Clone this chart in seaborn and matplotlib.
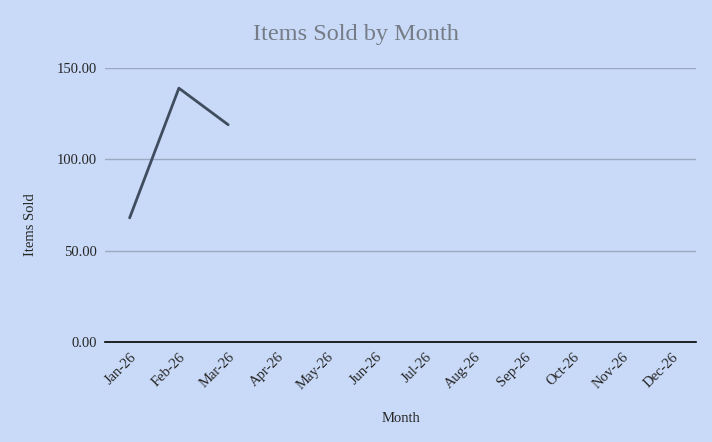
import pandas as pd
import matplotlib.pyplot as plt
import seaborn as sns

months = ['Jan-26', 'Feb-26', 'Mar-26', 'Apr-26', 'May-26', 'Jun-26',
          'Jul-26', 'Aug-26', 'Sep-26', 'Oct-26', 'Nov-26', 'Dec-26']
sold_months = ['Jan-26', 'Feb-26', 'Mar-26']
items_sold = [68, 139, 119]

bg = '#c9daf8'
sns.set_style('white')
plt.rcParams['font.family'] = ['Liberation Serif', 'DejaVu Serif']

df = pd.DataFrame({'pos': [months.index(m) for m in sold_months], 'sold': items_sold})

fig = plt.figure(figsize=(7.12, 4.42), dpi=100, facecolor=bg)
ax = fig.add_axes([0.1475, 0.226, 0.83, 0.62])
ax.set_facecolor(bg)

sns.lineplot(data=df, x='pos', y='sold', ax=ax, color='#3f4d5f', linewidth=2)

ax.set_xlim(-0.5, 11.5)
ax.set_ylim(0, 150)
ax.set_yticks([0, 50, 100, 150])
ax.set_yticklabels([f'{v:.2f}' for v in [0, 50, 100, 150]], fontsize=10.5)
ax.set_xticks(range(len(months)))
ax.set_xticklabels(months, rotation=45, ha='right', rotation_mode='anchor', fontsize=10.5)
ax.tick_params(length=0, pad=6)
ax.grid(axis='y', color='#9aa9c2', linewidth=1)
ax.set_axisbelow(True)
for s in ['top', 'right', 'left']:
    ax.spines[s].set_visible(False)
ax.spines['bottom'].set_color('black')
ax.spines['bottom'].set_linewidth(1.2)
ax.spines['bottom'].set_zorder(3)

ax.set_xlabel('Month', fontsize=10.5, labelpad=14)
ax.set_ylabel('Items Sold', fontsize=10.5)
ax.yaxis.set_label_coords(-0.115, 0.43)
fig.suptitle('Items Sold by Month', fontsize=17.5, color='#757c86', y=0.945)

fig.savefig('out.png', dpi=100, facecolor=bg)
